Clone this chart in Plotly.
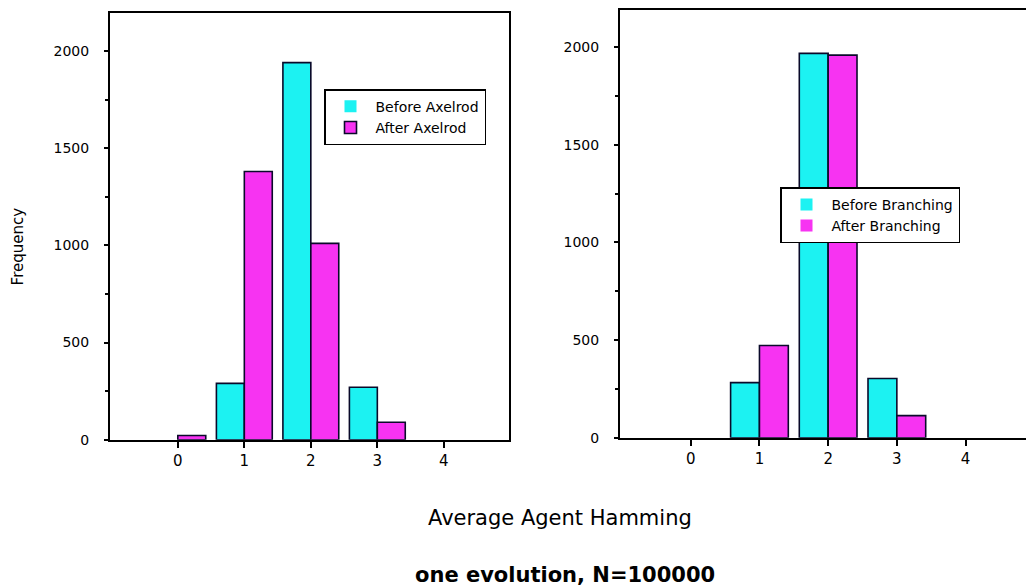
import plotly.graph_objects as go

categories = [0, 1, 2, 3, 4]
before_axelrod = [0, 290, 1940, 270, 0]
after_axelrod = [22, 1380, 1010, 90, 0]
before_branching = [0, 282, 1968, 303, 0]
after_branching = [0, 472, 1959, 113, 0]

y_ticks = [0, 500, 1000, 1500, 2000]
y_labels = ["0", "500", "1000", "1500", "2000"]

CYAN = "#1CF2F2"
MAGENTA = "#F733F2"
OUTLINE = "#0A0A2A"
FONT = "DejaVu Sans"

VS = 0.985  # observed vertical squeeze of the capture
W = 1026
H = round(588 / VS)

fig = go.Figure()

def bar(x, y, name, color, xa, ya, legend):
    return go.Bar(x=x, y=y, name=name, xaxis=xa, yaxis=ya, legend=legend,
                  marker=dict(color=color,
                              line=dict(color=OUTLINE, width=[0 if v == 0 else 1.6 for v in y])))

fig.add_trace(bar(categories, before_axelrod, "Before Axelrod", CYAN, "x", "y", "legend"))
fig.add_trace(bar(categories, after_axelrod, "After Axelrod", MAGENTA, "x", "y", "legend"))
fig.add_trace(bar(categories, before_branching, "Before Branching", CYAN, "x2", "y2", "legend2"))
fig.add_trace(bar(categories, after_branching, "After Branching", MAGENTA, "x2", "y2", "legend2"))

def px_x(p):
    return p / W

def px_y(p):
    return 1 - (p / VS) / H

common_x = dict(showline=True, linecolor="black", linewidth=2, ticks="outside",
                ticklen=6, tickwidth=2, tickcolor="black", showgrid=False, zeroline=False,
                tickvals=categories, ticktext=[str(c) for c in categories],
                tickfont=dict(family=FONT, size=15, color="black"))
common_y = dict(showline=True, linecolor="black", linewidth=2, ticks="outside",
                ticklen=4, tickwidth=2, tickcolor="black", showgrid=False, zeroline=False,
                tickvals=y_ticks, ticktext=y_labels,
                minor=dict(dtick=250, ticks="outside", ticklen=3, tickwidth=1.5, tickcolor="black"),
                tickfont=dict(family=FONT, size=14, color="black"),
                ticklabelstandoff=12)

legend_style = dict(xanchor="left", yanchor="top",
                    bgcolor="white", bordercolor="black", borderwidth=1.5,
                    font=dict(family=FONT, size=14, color="black"),
                    tracegroupgap=0, itemwidth=40)

fig.update_layout(
    width=W, height=H,
    margin=dict(l=0, r=0, t=0, b=0),
    paper_bgcolor="white", plot_bgcolor="white",
    barmode="group", bargap=0.16, bargroupgap=0,
    xaxis=dict(domain=[px_x(110), px_x(509)], range=[-1.02, 4.98], anchor="y", mirror=True, **common_x),
    yaxis=dict(domain=[px_y(439), px_y(13)], range=[0, 2195], anchor="x", mirror=True, **common_y),
    xaxis2=dict(domain=[px_x(620), 1.0], range=[-1.03, 4.88], anchor="y2", mirror=True, **common_x),
    yaxis2=dict(domain=[px_y(437), px_y(10)], range=[0, 2190], anchor="x2", mirror=False, **common_y),
    legend=dict(x=px_x(324), y=px_y(89), **legend_style),
    legend2=dict(x=px_x(780), y=px_y(187), **legend_style),
    showlegend=True,
    annotations=[
        dict(text="Frequency", x=px_x(18), y=px_y(246), xref="paper", yref="paper",
             xanchor="center", yanchor="middle", textangle=-90, showarrow=False,
             font=dict(family=FONT, size=15, color="black")),
        dict(text="Average Agent Hamming", x=px_x(560), y=px_y(517), xref="paper", yref="paper",
             xanchor="center", yanchor="middle", showarrow=False,
             font=dict(family=FONT, size=21, color="black")),
        dict(text="<b>one evolution, N=100000</b>", x=px_x(565), y=px_y(574), xref="paper", yref="paper",
             xanchor="center", yanchor="middle", showarrow=False,
             font=dict(family=FONT, size=21, color="black")),
    ],
)

post = ("document.documentElement.style.margin='0';document.documentElement.style.padding='0';"
        "document.documentElement.style.overflow='hidden';"
        "document.body.style.margin='0';document.body.style.padding='0';"
        "document.body.style.overflow='hidden';")

fig.write_html("out.html", post_script=post, config={"displayModeBar": False})
